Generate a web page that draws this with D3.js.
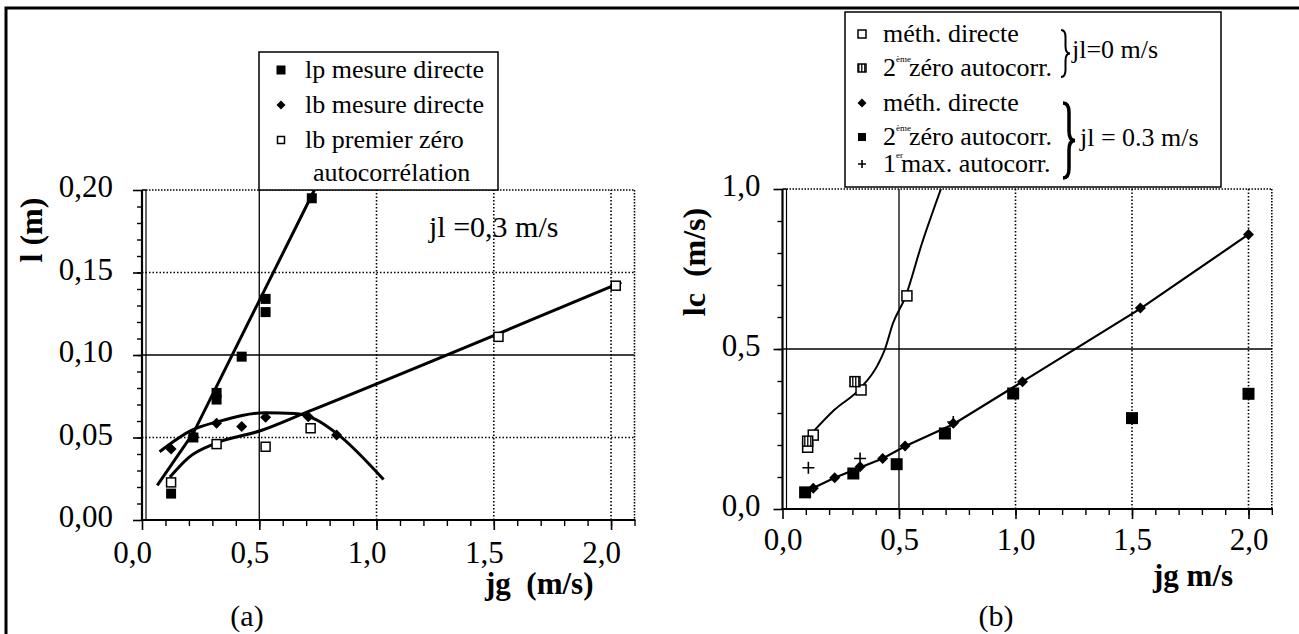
<!DOCTYPE html>
<html>
<head>
<meta charset="utf-8">
<script src="https://cdn.jsdelivr.net/npm/d3@7"></script>
<style>
  body { margin: 0; background: #fff; }
  svg { display: block; }
  svg text { font-family: "Liberation Serif", Tinos, "DejaVu Serif", serif; fill: #000; }
</style>
</head>
<body>
<div id="container"></div>
<script>
/* DATA - chart (a) */
const lpDirect = [ // lp mesure directe [jg, l]
  [0.124, 0.016], [0.219, 0.050], [0.318, 0.073], [0.318, 0.077],
  [0.425, 0.099], [0.527, 0.134], [0.527, 0.126], [0.724, 0.195]
];
const lbDirect = [ // lb mesure directe
  [0.124, 0.043], [0.219, 0.051], [0.318, 0.0586], [0.425, 0.0566],
  [0.527, 0.0622], [0.709, 0.0626], [0.83, 0.0515]
];
const lbZero = [ // lb premier zero autocorrelation
  [0.124, 0.0228], [0.318, 0.046], [0.527, 0.0444], [0.719, 0.0556],
  [1.52, 0.111], [2.02, 0.142]
];
// fitted curves
const lpFit = [[0.065, 0.021], [0.22, 0.053], [0.735, 0.2]];
const lbFit = [[0.075, 0.0414], [0.213, 0.0545], [0.323, 0.0596], [0.526, 0.065],
  [0.65, 0.0645], [0.74, 0.061], [0.83, 0.0525], [1.03, 0.0245]];
const lbZeroFit = [[0.119, 0.026], [0.2, 0.038], [0.314, 0.0465], [0.505, 0.0541],
  [0.7, 0.0652], [2.044, 0.144]];

/* DATA - chart (b) */
const jl0Direct = [[0.108, 0.193], [0.132, 0.231], [0.337, 0.372], [0.534, 0.666]];
const jl0Zero2 = [[0.108, 0.212], [0.311, 0.398]];
const jl3Direct = [[0.132, 0.065], [0.224, 0.098], [0.333, 0.132], [0.43, 0.158],
  [0.526, 0.197], [0.733, 0.268], [1.03, 0.398], [1.536, 0.628], [2.0, 0.858]];
const jl3Zero2 = [[0.097, 0.052], [0.304, 0.111], [0.49, 0.14], [0.697, 0.236],
  [0.99, 0.361], [1.5, 0.284], [2.0, 0.36]];
const jl3Max1 = [[0.111, 0.129], [0.333, 0.158], [0.733, 0.272]];
const jl0Fit = [[0.098, 0.214], [0.13, 0.24], [0.223, 0.31], [0.33, 0.374], [0.41, 0.452],
  [0.44, 0.5], [0.473, 0.578], [0.527, 0.662], [0.598, 0.829], [0.68, 1.0]];
const jl3Fit = [[0.09, 0.056], [0.132, 0.066], [0.224, 0.098], [0.333, 0.13], [0.43, 0.158],
  [0.526, 0.196], [0.733, 0.265], [1.03, 0.398], [1.536, 0.626], [2.0, 0.858]];

const xTicks = [0, 0.5, 1.0, 1.5, 2.0];
const yTicksA = [0, 0.05, 0.10, 0.15, 0.20];
const yTicksB = [0, 0.5, 1.0];

/* CONSTANTS */
const width = 1299, height = 634;
const serif = '"Liberation Serif", Tinos, "DejaVu Serif", serif';
const comma = f => d => d3.format(f)(d).replace(".", ",");

const svg = d3.select("#container").append("svg")
  .attr("width", width).attr("height", height)
  .attr("font-family", serif);

const defs = svg.append("defs");
const pat = defs.append("pattern").attr("id", "hatch")
  .attr("patternUnits", "userSpaceOnUse").attr("width", 3).attr("height", 3);
pat.append("rect").attr("width", 3).attr("height", 3).attr("fill", "#fff");
pat.append("rect").attr("width", 1.5).attr("height", 3).attr("fill", "#222");

// outer border
svg.append("path").attr("d", "M6,634V8H1299")
  .attr("fill", "none").attr("stroke", "#000").attr("stroke-width", 3);

/* helpers */
function drawPanel(cfg) {
  const { x, y, xMinor, yMinor, solidX, solidY, yFmt, xLabelDx, yLabelGap, xPad } = cfg;
  const [x0, x1] = x.range(), [y0, y1] = y.range();
  const g = svg.append("g");

  // frame (top/right dotted, inner left solid)
  g.append("line").attr("x1", x0 + 4).attr("x2", x1).attr("y1", y1).attr("y2", y1)
    .attr("stroke", "#000").attr("stroke-width", 1.6).attr("stroke-dasharray", "1.5,1.5");
  g.append("line").attr("x1", x1).attr("x2", x1).attr("y1", y1).attr("y2", y0)
    .attr("stroke", "#000").attr("stroke-width", 1.6).attr("stroke-dasharray", "1.5,1.5");
  g.append("line").attr("x1", x0 + 4).attr("x2", x0 + 4).attr("y1", y1).attr("y2", y0)
    .attr("stroke", "#000").attr("stroke-width", 1.2);
  g.append("line").attr("x1", x0).attr("x2", x0 + 4).attr("y1", y1).attr("y2", y1)
    .attr("stroke", "#000").attr("stroke-width", 1.6);

  // grid
  xTicks.filter(d => d > 0).forEach(d => {
    const solid = d === solidX;
    g.append("line").attr("x1", x(d)).attr("x2", x(d)).attr("y1", y0).attr("y2", y1)
      .attr("stroke", "#000").attr("stroke-width", solid ? 1.3 : 1.6)
      .attr("stroke-dasharray", solid ? null : "1.5,2");
  });
  cfg.yTicks.filter(d => d > 0 && d < y.domain()[1]).forEach(d => {
    const solid = Math.abs(d - solidY) < 1e-9;
    g.append("line").attr("x1", x0).attr("x2", x1).attr("y1", y(d)).attr("y2", y(d))
      .attr("stroke", "#000").attr("stroke-width", solid ? 1.3 : 1.6)
      .attr("stroke-dasharray", solid ? null : "1.5,2");
  });

  // axes: minor ticks
  g.append("g").attr("transform", `translate(0,${y0})`)
    .call(d3.axisBottom(x).tickValues(xMinor).tickSize(6).tickFormat(""))
    .call(a => a.select(".domain").remove());
  g.append("g").attr("transform", `translate(${x0},0)`)
    .call(d3.axisLeft(y).tickValues(yMinor).tickSize(5).tickFormat(""))
    .call(a => a.select(".domain").remove());
  g.selectAll(".tick line").attr("stroke-width", 1.4);

  // major ticks + labels
  const ax = g.append("g").attr("transform", `translate(0,${y0})`)
    .call(d3.axisBottom(x).tickValues(xTicks).tickSize(10).tickPadding(xPad).tickFormat(comma(".1f")))
    .call(a => a.select(".domain").remove());
  ax.attr("font-family", serif);
  ax.selectAll(".tick line").attr("stroke-width", 1.6);
  ax.selectAll(".tick text").attr("font-size", 31).attr("dx", xLabelDx);
  const ay = g.append("g").attr("transform", `translate(${x0},0)`)
    .call(d3.axisLeft(y).tickValues(cfg.yTicks).tickSize(9).tickPadding(yLabelGap - 9).tickFormat(comma(yFmt)))
    .call(a => a.select(".domain").remove());
  ay.attr("font-family", serif);
  ay.selectAll(".tick line").attr("stroke-width", 1.6);
  ay.selectAll(".tick text").attr("font-size", 31).attr("dy", "0.22em");

  // axis lines
  g.append("line").attr("x1", x0 - 1).attr("x2", x1 + 1).attr("y1", y0).attr("y2", y0)
    .attr("stroke", "#000").attr("stroke-width", 2.2);
  g.append("line").attr("x1", x0).attr("x2", x0).attr("y1", y0 + 1).attr("y2", y1)
    .attr("stroke", "#000").attr("stroke-width", 2.2);
  return g;
}

function marker(g, type, px, py, s) {
  if (type === "fsq") {
    g.append("rect").attr("x", px - s / 2).attr("y", py - s / 2).attr("width", s).attr("height", s)
      .attr("fill", "#000");
  } else if (type === "osq") {
    g.append("rect").attr("x", px - s / 2).attr("y", py - s / 2).attr("width", s).attr("height", s)
      .attr("fill", "#fff").attr("stroke", "#000").attr("stroke-width", 1.5);
  } else if (type === "hsq") {
    g.append("rect").attr("x", px - s / 2).attr("y", py - s / 2).attr("width", s).attr("height", s)
      .attr("fill", "url(#hatch)").attr("stroke", "#000").attr("stroke-width", 1.5);
  } else if (type === "dia") {
    const r = s / 2;
    g.append("path").attr("d", `M${px},${py - r}L${px + r},${py}L${px},${py + r}L${px - r},${py}Z`)
      .attr("fill", "#000");
  } else if (type === "plus") {
    const r = s / 2;
    g.append("path").attr("d", `M${px - r},${py}H${px + r}M${px},${py - r}V${py + r}`)
      .attr("stroke", "#000").attr("stroke-width", 1.6);
  }
}

function brace(g, bx, ya, yb, w, sw) {
  const ym = (ya + yb) / 2, r = Math.min(w * 0.8, (yb - ya) / 5), h = bx + w * 0.5;
  g.append("path")
    .attr("d", `M${bx},${ya}Q${h},${ya} ${h},${ya + r}L${h},${ym - r}Q${h},${ym} ${bx + w},${ym}` +
      `Q${h},${ym} ${h},${ym + r}L${h},${yb - r}Q${h},${yb} ${bx},${yb}`)
    .attr("fill", "none").attr("stroke", "#000").attr("stroke-width", sw);
}

/* PANEL (a) */
const xA = d3.scaleLinear().domain([0, 2.1]).range([142, 634.5]);
const yA = d3.scaleLinear().domain([0, 0.2]).range([520, 190]);
const gA = drawPanel({
  x: xA, y: yA, yTicks: yTicksA, yFmt: ".2f",
  xMinor: d3.range(1, 22).map(d => d / 10),
  yMinor: d3.range(1, 20).map(d => d / 100),
  solidX: 0.5, solidY: 0.10, xLabelDx: -10, yLabelGap: 29, xPad: 11
});
const lineA = d3.line().x(d => xA(d[0])).y(d => yA(d[1]));
[[lpFit, d3.curveLinear], [lbFit, d3.curveMonotoneX], [lbZeroFit, d3.curveMonotoneX]].forEach(([pts, c]) => {
  gA.append("path").attr("d", lineA.curve(c)(pts))
    .attr("fill", "none").attr("stroke", "#000").attr("stroke-width", 3);
});
lbDirect.forEach(d => marker(gA, "dia", xA(d[0]), yA(d[1]), 11));
lbZero.forEach(d => marker(gA, "osq", xA(d[0]), yA(d[1]), 9));
lpDirect.forEach(d => marker(gA, "fsq", xA(d[0]), yA(d[1]), 10));

gA.append("text").attr("x", 429).attr("y", 237).attr("font-size", 30).text("jl =0,3 m/s");

// legend (a)
const legA = svg.append("g");
legA.append("rect").attr("x", 259).attr("y", 52).attr("width", 239).attr("height", 138)
  .attr("fill", "#fff").attr("stroke", "#000").attr("stroke-width", 1.5);
const legAItems = [["fsq", "lp mesure directe", 78], ["dia", "lb mesure directe", 113], ["osq", "lb premier zéro", 148]];
legAItems.forEach(([t, label, by]) => {
  marker(legA, t, 281, by - 8, t === "osq" ? 7 : 9);
  legA.append("text").attr("x", 305).attr("y", by).attr("font-size", 26).text(label);
});
legA.append("text").attr("x", 313).attr("y", 181).attr("font-size", 26).text("autocorrélation");

// labels (a)
svg.append("text").attr("x", 485).attr("y", 594).attr("font-size", 31).attr("font-weight", "bold")
  .style("white-space", "pre").text("jg  (m/s)");
svg.append("text").attr("transform", "translate(42,230) rotate(-90)").attr("text-anchor", "middle")
  .attr("font-size", 32).attr("font-weight", "bold").text("l (m)");
svg.append("text").attr("x", 247).attr("y", 626).attr("text-anchor", "middle").attr("font-size", 30).text("(a)");

/* PANEL (b) */
const xB = d3.scaleLinear().domain([0, 2.1]).range([782.5, 1271.8]);
const yB = d3.scaleLinear().domain([0, 1]).range([509, 189]);
const gB = drawPanel({
  x: xB, y: yB, yTicks: yTicksB, yFmt: ".1f",
  xMinor: d3.range(1, 22).map(d => d / 10),
  yMinor: d3.range(1, 10).map(d => d / 10),
  solidX: 0.5, solidY: 0.5, xLabelDx: 0, yLabelGap: 22, xPad: 9
});
gB.append("clipPath").attr("id", "clipB").append("rect")
  .attr("x", 782.5).attr("y", 189).attr("width", 489.3).attr("height", 320);
const lineB = d3.line().x(d => xB(d[0])).y(d => yB(d[1]));
gB.append("path").attr("d", lineB.curve(d3.curveMonotoneX)(jl0Fit)).attr("clip-path", "url(#clipB)")
  .attr("fill", "none").attr("stroke", "#000").attr("stroke-width", 2);
gB.append("path").attr("d", lineB.curve(d3.curveLinear)(jl3Fit))
  .attr("fill", "none").attr("stroke", "#000").attr("stroke-width", 2.2);
jl0Direct.forEach(d => marker(gB, "osq", xB(d[0]), yB(d[1]), 10));
jl0Zero2.forEach(d => marker(gB, "hsq", xB(d[0]), yB(d[1]), 10));
jl3Zero2.forEach(d => marker(gB, "fsq", xB(d[0]), yB(d[1]), 12));
jl3Direct.forEach(d => marker(gB, "dia", xB(d[0]), yB(d[1]), 11));
jl3Max1.forEach(d => marker(gB, "plus", xB(d[0]), yB(d[1]), 12));

// legend (b)
const legB = svg.append("g");
legB.append("rect").attr("x", 845).attr("y", 12).attr("width", 376).attr("height", 175)
  .attr("fill", "#fff").attr("stroke", "#000").attr("stroke-width", 1.5);
const legBItems = [["osq", 42], ["hsq", 76], ["dia", 111], ["fsq", 145], ["plus", 172]];
legBItems.forEach(([t, by]) => marker(legB, t, 862, by - 8, t === "dia" ? 9 : 8));
function supRow(y, base, sup, rest) {
  const t = legB.append("text").attr("x", 883).attr("y", y).attr("font-size", 26);
  t.append("tspan").text(base);
  t.append("tspan").attr("font-size", 9).attr("dy", -14).text(sup);
  t.append("tspan").attr("dy", 14).attr("dx", -2).text(rest);
}
legB.append("text").attr("x", 883).attr("y", 42).attr("font-size", 26).text("méth. directe");
supRow(76, "2", "ème", "zéro autocorr.");
legB.append("text").attr("x", 883).attr("y", 111).attr("font-size", 26).text("méth. directe");
supRow(145, "2", "ème", "zéro autocorr.");
supRow(172, "1", "er", "max. autocorr.");
brace(legB, 1061, 30, 77, 9, 2);
legB.append("text").attr("x", 1072).attr("y", 58).attr("font-size", 26).text("jl=0 m/s");
brace(legB, 1063, 103, 178, 12, 3.5);
legB.append("text").attr("x", 1080).attr("y", 146).attr("font-size", 26).text("jl = 0.3 m/s");

// labels (b)
svg.append("text").attr("x", 1153).attr("y", 586).attr("font-size", 31).attr("font-weight", "bold")
  .text("jg m/s");
svg.append("text").attr("transform", "translate(705,262) rotate(-90)").attr("text-anchor", "middle")
  .attr("font-size", 32).attr("font-weight", "bold").style("white-space", "pre").text("lc  (m/s)");
svg.append("text").attr("x", 996).attr("y", 626).attr("text-anchor", "middle").attr("font-size", 30).text("(b)");
</script>
</body>
</html>
